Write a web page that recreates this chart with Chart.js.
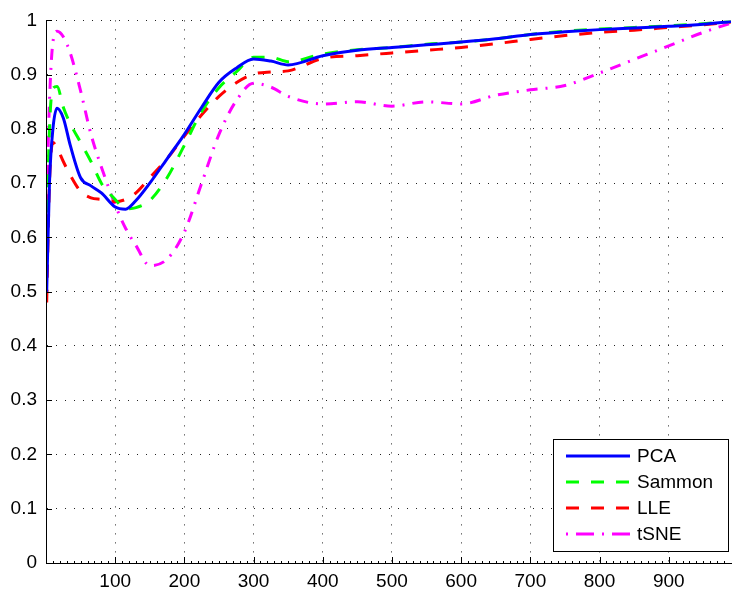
<!DOCTYPE html>
<html>
<head>
<meta charset="utf-8">
<script src="https://cdn.jsdelivr.net/npm/chart.js@4/dist/chart.umd.min.js"></script>
<style>
  body { margin: 0; background: #fff; }
  canvas { display: block; }
</style>
</head>
<body>
<canvas id="c" width="732" height="596"></canvas>
<script>
// x positions shared by all curves
const xs = [1, 5, 10, 16, 25, 35, 50, 65, 80, 100, 115, 130, 150, 175, 200, 225, 250, 275, 300, 325, 350, 400, 450, 500, 550, 600, 650, 700, 750, 800, 850, 900, 950, 990];

const pca =    [0.50, 0.70, 0.80, 0.838, 0.82, 0.77, 0.71, 0.695, 0.682, 0.656, 0.652, 0.668, 0.70, 0.745, 0.79, 0.84, 0.886, 0.912, 0.929, 0.925, 0.918, 0.935, 0.945, 0.950, 0.955, 0.960, 0.966, 0.974, 0.979, 0.983, 0.986, 0.989, 0.993, 0.998];
const sammon = [0.60, 0.80, 0.875, 0.878, 0.84, 0.81, 0.775, 0.74, 0.70, 0.67, 0.653, 0.655, 0.668, 0.71, 0.77, 0.832, 0.876, 0.905, 0.932, 0.932, 0.924, 0.938, 0.946, 0.950, 0.956, 0.960, 0.966, 0.974, 0.980, 0.984, 0.987, 0.990, 0.994, 0.998];
const lle =    [0.48, 0.70, 0.775, 0.765, 0.74, 0.715, 0.685, 0.673, 0.670, 0.666, 0.670, 0.682, 0.71, 0.745, 0.787, 0.826, 0.86, 0.885, 0.901, 0.905, 0.907, 0.930, 0.935, 0.940, 0.945, 0.950, 0.957, 0.965, 0.972, 0.978, 0.982, 0.987, 0.992, 0.997];
const tsne =   [0.66, 0.85, 0.96, 0.98, 0.97, 0.94, 0.87, 0.79, 0.73, 0.66, 0.617, 0.585, 0.548, 0.56, 0.61, 0.70, 0.79, 0.852, 0.884, 0.877, 0.86, 0.846, 0.85, 0.842, 0.85, 0.846, 0.862, 0.872, 0.880, 0.903, 0.928, 0.953, 0.978, 0.995];

const xTicks = [100, 200, 300, 400, 500, 600, 700, 800, 900];
const yTicks = [0, 0.1, 0.2, 0.3, 0.4, 0.5, 0.6, 0.7, 0.8, 0.9, 1];

const FONT = 'Liberation Sans, Arial, Helvetica, sans-serif';

function pts(ys) {
  return xs.map((x, i) => ({ x: x, y: ys[i] }));
}

function series(label, ys, color, dash) {
  return {
    label: label,
    data: pts(ys),
    borderColor: color,
    backgroundColor: color,
    borderWidth: 3,
    borderDash: dash,
    pointRadius: 0,
    fill: false,
    cubicInterpolationMode: 'monotone'
  };
}

// 内向刻度线
const tickMarks = {
  id: 'tickMarks',
  afterDraw(chart) {
    const ctx = chart.ctx;
    const a = chart.chartArea;
    const sx = chart.scales.x, sy = chart.scales.y;
    ctx.save();
    ctx.strokeStyle = '#000';
    ctx.lineWidth = 1;
    ctx.setLineDash([]);
    ctx.beginPath();
    xTicks.forEach(v => {
      const p = Math.round(sx.getPixelForValue(v)) + 0.5;
      ctx.moveTo(p, a.bottom);
      ctx.lineTo(p, a.bottom - 6);
    });
    for (let v = 10; v < 990; v += 10) {
      if (v % 100 === 0) continue;
      const p = Math.round(sx.getPixelForValue(v)) + 0.5;
      ctx.moveTo(p, a.bottom);
      ctx.lineTo(p, a.bottom - 2);
    }
    yTicks.forEach(v => {
      const p = Math.round(sy.getPixelForValue(v)) + 0.5;
      ctx.moveTo(a.left, p);
      ctx.lineTo(a.left + 6, p);
    });
    ctx.stroke();
    ctx.restore();
  }
};

// 图例
const boxLegend = {
  id: 'boxLegend',
  afterDraw(chart) {
    const ctx = chart.ctx;
    const x0 = 553, y0 = 439, w = 175, h = 112;
    ctx.save();
    ctx.fillStyle = '#fff';
    ctx.fillRect(x0, y0, w, h);
    ctx.strokeStyle = '#000';
    ctx.lineWidth = 1;
    ctx.setLineDash([]);
    ctx.strokeRect(x0 + 0.5, y0 + 0.5, w, h);
    chart.data.datasets.forEach((ds, i) => {
      const y = 456 + i * 26;
      ctx.strokeStyle = ds.borderColor;
      ctx.lineWidth = 3;
      ctx.setLineDash(ds.legendDash || ds.borderDash || []);
      ctx.beginPath();
      ctx.moveTo(566, y);
      ctx.lineTo(630, y);
      ctx.stroke();
      ctx.setLineDash([]);
      ctx.fillStyle = '#000';
      ctx.font = '19px ' + FONT;
      ctx.textBaseline = 'middle';
      ctx.textAlign = 'left';
      ctx.fillText(ds.label, 637, y + 1);
    });
    ctx.restore();
  }
};

const tsneSeries = series('tSNE', tsne, '#ff00ff', [11, 8, 2, 8]);
tsneSeries.legendDash = [2, 8, 18, 8];

new Chart(document.getElementById('c'), {
  type: 'line',
  data: {
    datasets: [
      series('PCA', pca, '#0000ff', []),
      series('Sammon', sammon, '#00ff00', [13, 12]),
      series('LLE', lle, '#ff0000', [13, 12]),
      tsneSeries
    ]
  },
  options: {
    responsive: false,
    animation: false,
    layout: { padding: { top: 15, right: 1, left: 0, bottom: 0 } },
    plugins: { legend: { display: false }, tooltip: { enabled: false } },
    scales: {
      x: {
        type: 'linear',
        min: 0,
        max: 990,
        afterBuildTicks: s => { s.ticks = xTicks.map(v => ({ value: v })); },
        afterFit: s => { s.height = 33; },
        ticks: { color: '#000', font: { family: FONT, size: 19 }, padding: 7, maxRotation: 0 },
        grid: { color: '#222', drawTicks: false },
        border: { display: true, color: '#000', width: 1, dash: [1, 8] }
      },
      y: {
        min: 0,
        max: 1,
        afterBuildTicks: s => { s.ticks = yTicks.map(v => ({ value: v })); },
        afterFit: s => { s.width = 46; },
        ticks: {
          color: '#000',
          font: { family: FONT, size: 19 },
          padding: 9,
          callback: v => String(Number(v.toFixed(1)))
        },
        grid: { color: '#222', drawTicks: false },
        border: { display: true, color: '#000', width: 1, dash: [1, 8] }
      }
    }
  },
  plugins: [tickMarks, boxLegend, {
    id: 'axisLines',
    afterDraw(chart) {
      const ctx = chart.ctx, a = chart.chartArea;
      ctx.save();
      ctx.strokeStyle = '#000';
      ctx.lineWidth = 1;
      ctx.setLineDash([]);
      ctx.beginPath();
      ctx.moveTo(a.left + 0.5, a.top);
      ctx.lineTo(a.left + 0.5, a.bottom + 0.5);
      ctx.lineTo(a.right, a.bottom + 0.5);
      ctx.stroke();
      ctx.restore();
    }
  }]
});
</script>
</body>
</html>
